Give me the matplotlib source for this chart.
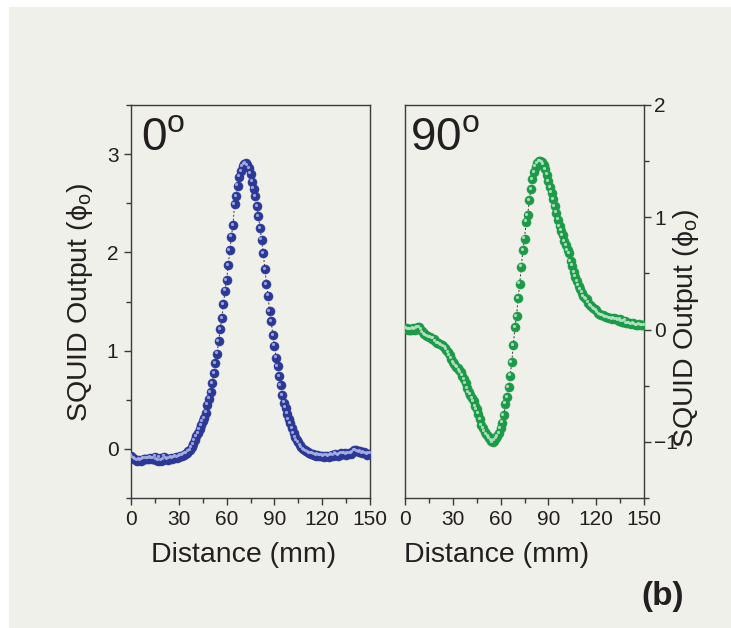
import numpy as np
import matplotlib
matplotlib.use("Agg")
import matplotlib.pyplot as plt
from matplotlib.patches import Rectangle
from matplotlib.ticker import MultipleLocator
from matplotlib.transforms import offset_copy

plt.rcParams['font.family'] = ['Liberation Sans', 'DejaVu Sans']
plt.rcParams['mathtext.fontset'] = 'custom'
plt.rcParams['mathtext.rm'] = 'Liberation Sans'
plt.rcParams['mathtext.it'] = 'Liberation Sans:italic'

# Scan positions (mm), one sample per millimetre
distance = np.arange(0, 151, 1.0)

# SQUID output at 0 degrees (flux quanta)
squid_0deg = [
    -0.07, -0.09, -0.10, -0.11, -0.12, -0.11, -0.12, -0.11, -0.10, -0.10,
    -0.10, -0.10, -0.09, -0.10, -0.10, -0.08, -0.11, -0.12, -0.09, -0.12,
    -0.11, -0.08, -0.10, -0.11, -0.10, -0.09, -0.10, -0.09, -0.08, -0.09,
    -0.08, -0.07, -0.07, -0.06, -0.05, -0.04, -0.02, -0.01, 0.02, 0.05,
    0.09, 0.13, 0.16, 0.20, 0.24, 0.28, 0.31, 0.37, 0.45, 0.51,
    0.58, 0.67, 0.77, 0.87, 0.97, 1.10, 1.22, 1.33, 1.47, 1.61,
    1.72, 1.87, 2.02, 2.16, 2.28, 2.49, 2.57, 2.68, 2.77, 2.83,
    2.88, 2.90, 2.91, 2.89, 2.86, 2.80, 2.72, 2.65, 2.57, 2.47,
    2.37, 2.25, 2.13, 1.99, 1.83, 1.68, 1.56, 1.40, 1.30, 1.16,
    1.05, 0.93, 0.84, 0.74, 0.65, 0.55, 0.47, 0.42, 0.36, 0.30,
    0.26, 0.21, 0.16, 0.12, 0.09, 0.07, 0.04, 0.02, 0.00, -0.01,
    -0.02, -0.03, -0.04, -0.05, -0.05, -0.06, -0.07, -0.06, -0.07, -0.07,
    -0.07, -0.08, -0.07, -0.07, -0.08, -0.07, -0.06, -0.07, -0.05, -0.06,
    -0.07, -0.06, -0.04, -0.05, -0.04, -0.06, -0.05, -0.04, -0.05, -0.03,
    -0.01, -0.01, -0.02, -0.03, -0.02, -0.04, -0.03, -0.04, -0.06, -0.05,
    -0.05,
]

# SQUID output at 90 degrees (flux quanta)
squid_90deg = [
    0.01, 0.01, 0.00, 0.00, 0.00, 0.01, 0.00, 0.01, 0.02, 0.02,
    0.00, -0.02, -0.04, -0.05, -0.06, -0.07, -0.07, -0.08, -0.08, -0.10,
    -0.12, -0.12, -0.13, -0.14, -0.15, -0.16, -0.18, -0.20, -0.23, -0.26,
    -0.29, -0.31, -0.33, -0.34, -0.36, -0.38, -0.41, -0.44, -0.48, -0.52,
    -0.56, -0.58, -0.61, -0.64, -0.68, -0.71, -0.75, -0.80, -0.85, -0.88,
    -0.91, -0.93, -0.95, -0.97, -0.99, -1.00, -0.99, -0.97, -0.95, -0.92,
    -0.88, -0.83, -0.76, -0.66, -0.60, -0.51, -0.41, -0.29, -0.14, 0.02,
    0.12, 0.28, 0.41, 0.56, 0.71, 0.81, 0.96, 1.02, 1.15, 1.25,
    1.34, 1.40, 1.45, 1.48, 1.50, 1.50, 1.49, 1.47, 1.43, 1.38,
    1.32, 1.27, 1.22, 1.16, 1.10, 1.04, 0.98, 0.92, 0.88, 0.84,
    0.79, 0.75, 0.71, 0.68, 0.61, 0.57, 0.51, 0.47, 0.43, 0.39,
    0.36, 0.33, 0.30, 0.28, 0.27, 0.24, 0.22, 0.21, 0.19, 0.18,
    0.17, 0.15, 0.14, 0.13, 0.13, 0.12, 0.11, 0.11, 0.10, 0.10,
    0.09, 0.10, 0.09, 0.09, 0.08, 0.09, 0.07, 0.07, 0.08, 0.06,
    0.06, 0.06, 0.05, 0.06, 0.05, 0.04, 0.04, 0.05, 0.04, 0.04,
    0.04,
]

panel_titles = ["0$^\\mathrm{o}$", "90$^\\mathrm{o}$"]
ylabel_text = "SQUID Output (\u03d5$_\\mathrm{o}$)"
xlabel_text = "Distance (mm)"

W, H = 731, 628
BG = '#eff0ea'
INK = '#231f20'
SPINE = '#3a3a3a'

fig = plt.figure(figsize=(W / 100, H / 100), dpi=100, facecolor='white')
fig.patches.append(Rectangle((9 / W, 0), 1 - 9 / W, 1 - 7 / H,
                             transform=fig.transFigure, facecolor=BG,
                             edgecolor='none', zorder=-10))


def px_box(x0, y0, x1, y1):
    return [x0 / W, 1 - y1 / H, (x1 - x0) / W, (y1 - y0) / H]


ax1 = fig.add_axes(px_box(131, 105, 370, 498))
ax2 = fig.add_axes(px_box(405, 105, 644, 498))


def draw_balls(ax, x, y, body, light):
    ax.plot(x, y, ls=(0, (2.0, 2.0)), lw=0.7, color='#333333', zorder=2)
    ax.plot(x, y, ls='none', marker='o', ms=6.5, mfc=body, mec=body,
            mew=0.4, zorder=3)
    shine = offset_copy(ax.transData, fig=fig, x=-1.3, y=1.3, units='dots')
    ax.plot(x, y, ls='none', marker='o', ms=2.3, mfc=light, mec='none',
            alpha=0.9, transform=shine, zorder=4)


draw_balls(ax1, distance, squid_0deg, '#2b3896', '#a8b0e4')
draw_balls(ax2, distance, squid_90deg, '#1c9a48', '#b4e4c2')

for ax in (ax1, ax2):
    ax.set_facecolor('none')
    ax.set_xlim(0, 150)
    ax.xaxis.set_major_locator(MultipleLocator(30))
    ax.xaxis.set_minor_locator(MultipleLocator(15))
    ax.yaxis.set_minor_locator(MultipleLocator(0.5))
    ax.yaxis.set_major_locator(MultipleLocator(1))
    for s in ax.spines.values():
        s.set_color(SPINE)
        s.set_linewidth(1.0)
    ax.tick_params(which='both', direction='out', color=SPINE, width=1.0,
                   labelcolor=INK, labelsize=15)
    ax.tick_params(which='major', length=5)
    ax.tick_params(which='minor', length=3.5)
    ax.tick_params(axis='x', pad=3.5)

ax1.set_ylim(-0.5, 3.5)
ax1.tick_params(axis='y', which='both', left=True, right=False, pad=4)

ax2.set_ylim(-1.5, 2)
ax2.yaxis.tick_right()
ax2.tick_params(axis='y', which='both', left=False, right=True,
                labelleft=False, labelright=True, pad=2.5)

ax1.text(0.04, 0.885, panel_titles[0], transform=ax1.transAxes,
         fontsize=33, color=INK, ha='left', va='baseline')
ax2.text(0.02, 0.885, panel_titles[1], transform=ax2.transAxes,
         fontsize=33, color=INK, ha='left', va='baseline')

fig.text(80 / W, 1 - 303 / H, ylabel_text, rotation=90, fontsize=20.5,
         color=INK, ha='center', va='center')
fig.text(686 / W, 1 - 329 / H, ylabel_text, rotation=90, fontsize=20.5,
         color=INK, ha='center', va='center')

fig.text(244 / W, 1 - 562 / H, xlabel_text, fontsize=20.5, color=INK,
         ha='center', va='baseline')
fig.text(497 / W, 1 - 562 / H, xlabel_text, fontsize=20.5, color=INK,
         ha='center', va='baseline')

fig.text(663 / W, 1 - 597 / H, "(b)", fontsize=24, fontweight='bold',
         color=INK, ha='center', va='center')

fig.savefig('out.png', dpi=100, facecolor=fig.get_facecolor())
